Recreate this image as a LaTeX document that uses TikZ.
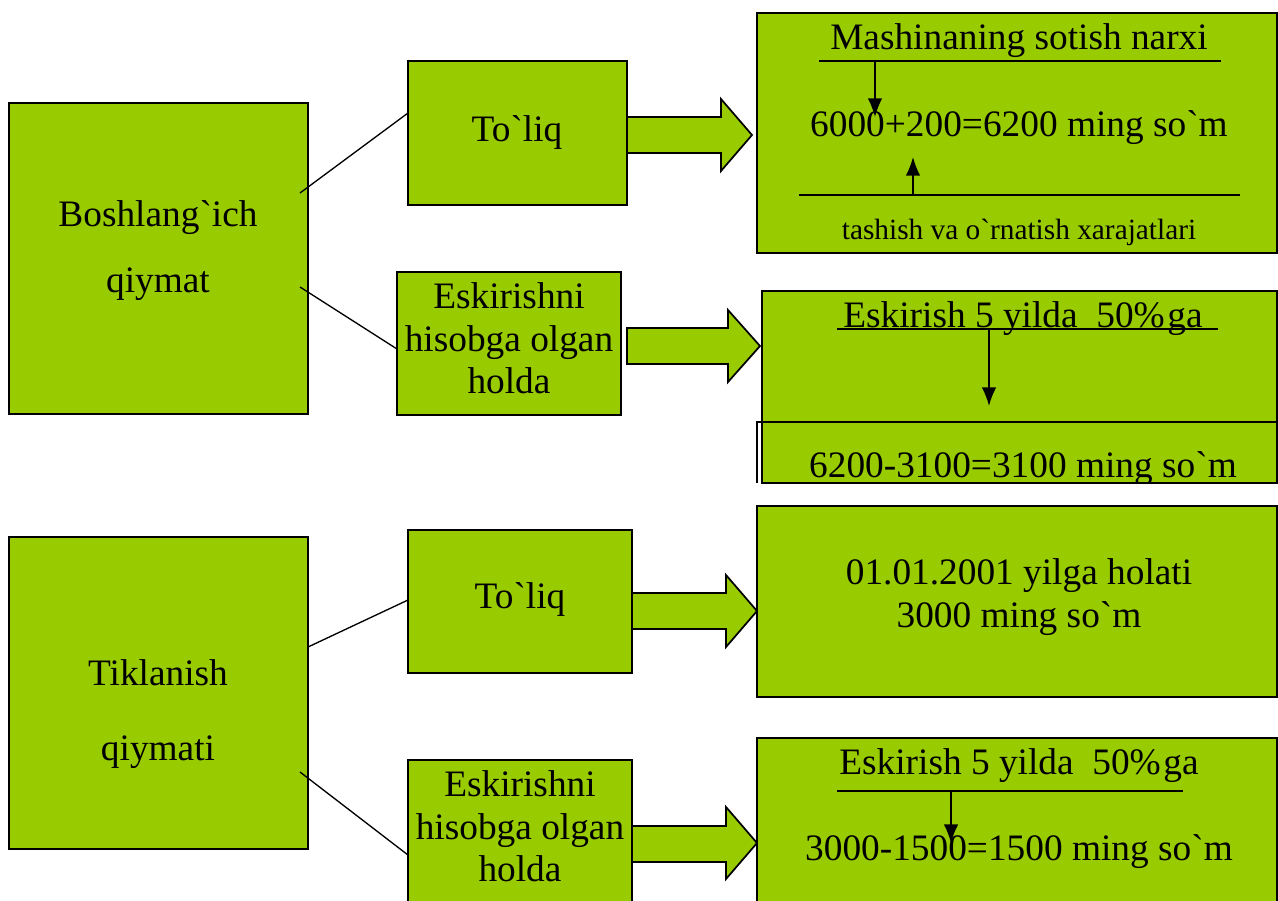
\documentclass[tikz,border=0pt]{standalone}
\usepackage{fontspec}
\setmainfont{Liberation Serif}[Ligatures=TeXOff]
\usetikzlibrary{fit,arrows.meta}
\definecolor{lgreen}{RGB}{153,204,0}
\tikzset{
  box/.style={draw=black, fill=lgreen, line width=1.3pt, inner sep=0pt},
  blk/.style={draw=black, fill=lgreen, line width=1.3pt, line join=miter},
  txt/.style={font=\fontsize{28}{32}\selectfont, inner sep=0pt, anchor=base},
  smalltxt/.style={font=\fontsize{22}{24}\selectfont, inner sep=0pt, anchor=base},
  conn/.style={line width=1pt},
  rule/.style={line width=1.3pt},
  darr/.style={line width=1.3pt, -{Latex[length=14pt,width=11pt]}},
}
\begin{document}
\begin{tikzpicture}[x=0.75pt,y=-0.75pt]
\useasboundingbox (0,0) rectangle (1278,900);
\clip (0,0) rectangle (1278,900);
% boxes
\node[box, fit={(9,103) (308,414)}] (b1) {};
\node[box, fit={(408,61) (627,205)}] (t1) {};
\node[box, fit={(397,272) (621,415)}] (e1) {};
\node[box, fit={(757,13) (1277,253)}] (r1) {};
\node[box, fit={(762,291) (1277,483)}] (r2) {};
\node[box, fit={(9,537) (308,849)}] (b2) {};
\node[box, fit={(408,530) (632,673)}] (t2) {};
\node[box, fit={(408,760) (632,910)}] (e2) {};
\node[box, fit={(757,506) (1277,697)}] (r3) {};
\node[box, fit={(757,738) (1277,910)}] (r4) {};
% inner rectangle in r2
\draw[rule] (1277,422) coordinate (i1) -- (757,422) coordinate (i2) -- (757,483) coordinate (i3);
% connector lines
\coordinate (c1a) at (300,193); \coordinate (c1b) at (408,113);
\coordinate (c2a) at (300,287); \coordinate (c2b) at (397,349);
\coordinate (c3a) at (308,647); \coordinate (c3b) at (408,600);
\coordinate (c4a) at (300,772); \coordinate (c4b) at (408,855);
\draw[conn] (c1a) -- (c1b);
\draw[conn] (c2a) -- (c2b);
\draw[conn] (c3a) -- (c3b);
\draw[conn] (c4a) -- (c4b);
% block arrows
\draw[blk] (627,117) -- (721,117) -- (721,99) -- (752,135) -- (721,171) -- (721,153) -- (627,153) -- cycle;
\draw[blk] (627,328) -- (728,328) -- (728,310) -- (760,346) -- (728,382) -- (728,364) -- (627,364) -- cycle;
\draw[blk] (632,593) -- (726,593) -- (726,575) -- (757,611) -- (726,647) -- (726,629) -- (632,629) -- cycle;
\draw[blk] (632,826) -- (726,826) -- (726,807) -- (757,843) -- (726,879) -- (726,862) -- (632,862) -- cycle;
% left texts
\node[txt] (l1) at (158,226) {Boshlang`ich};
\node[txt] (l2) at (158,292) {qiymat};
\node[txt] (l3) at (158,685) {Tiklanish};
\node[txt] (l4) at (158,760) {qiymati};
% middle texts
\node[txt] (m1) at (517,141) {To`liq};
\node[txt] (m2) at (509,308) {Eskirishni};
\node[txt] (m3) at (509,351) {hisobga olgan};
\node[txt] (m4) at (509,393) {holda};
\node[txt] (m5) at (520,608) {To`liq};
\node[txt] (m6) at (520,796) {Eskirishni};
\node[txt] (m7) at (520,839) {hisobga olgan};
\node[txt] (m8) at (520,881) {holda};
% right box 1
\node[txt] (p1) at (1019,49) {Mashinaning sotish narxi};
\draw[rule] (819,61) coordinate (h1a) -- (1221,61) coordinate (h1b);
\node[txt] (p2) at (1019,136) {6000+200=6200 ming so`m};
\draw[rule] (799,195) coordinate (h2a) -- (1240,195) coordinate (h2b);
\coordinate (a1s) at (875,61); \coordinate (a1e) at (875,117);
\draw[darr] (a1s) -- (a1e);
\coordinate (a2s) at (913,195); \coordinate (a2e) at (913,157);
\draw[darr] (a2s) -- (a2e);
\node[smalltxt] (p3) at (1019,239) {tashish va o`rnatish xarajatlari};
% right box 2
\node[txt] (q1) at (1023,327) {Eskirish 5 yilda\ \ 50\%\kern2pt ga};
\draw[rule] (837,329) coordinate (h3a) -- (1218,329) coordinate (h3b);
\coordinate (a3s) at (989,329); \coordinate (a3e) at (989,406);
\draw[darr] (a3s) -- (a3e);
\begin{scope}
\clip (757,422) rectangle (1278,483);
\node[txt] (q2) at (1023,477) {6200-3100=3100 ming so`m};
\end{scope}
% right box 3
\node[txt] (s1) at (1019,584) {01.01.2001 yilga holati};
\node[txt] (s2) at (1019,627) {3000 ming so`m};
% right box 4
\node[txt] (u1) at (1019,774) {Eskirish 5 yilda\ \ 50\%\kern2pt ga};
\draw[rule] (837,791) coordinate (h4a) -- (1183,791) coordinate (h4b);
\coordinate (a4s) at (951,791); \coordinate (a4e) at (951,843);
\draw[darr] (a4s) -- (a4e);
\node[txt] (u2) at (1019,860) {3000-1500=1500 ming so`m};
\end{tikzpicture}
\end{document}
